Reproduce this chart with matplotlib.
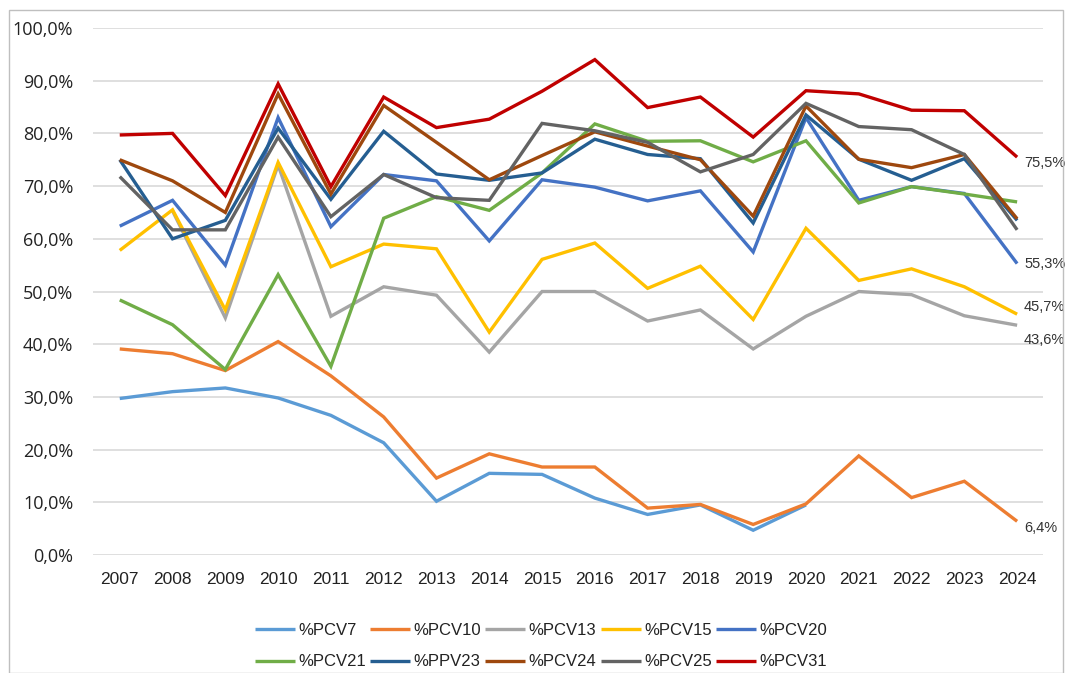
import numpy as np
import matplotlib
matplotlib.use("Agg")
import matplotlib.pyplot as plt
from matplotlib.patches import Rectangle

years = [str(y) for y in range(2007, 2025)]
nan = np.nan

pcv7 = [29.7, 31.0, 31.7, 29.8, 26.5, 21.3, 10.2, 15.5, 15.3, 10.8, 7.7, 9.5, 4.7, 9.5, nan, nan, nan, nan]
pcv10 = [39.1, 38.2, 35.0, 40.5, 34.0, 26.2, 14.6, 19.2, 16.7, 16.7, 8.9, 9.6, 5.8, 9.7, 18.8, 10.9, 14.0, 6.4]
pcv13 = [nan, 65.3, 45.0, 74.0, 45.3, 50.9, 49.3, 38.5, 50.0, 50.0, 44.4, 46.5, 39.1, 45.3, 50.0, 49.4, 45.4, 43.6]
pcv15 = [57.8, 65.5, 46.5, 74.5, 54.7, 59.0, 58.1, 42.3, 56.1, 59.2, 50.6, 54.8, 44.7, 62.0, 52.1, 54.3, 50.9, 45.7]
pcv20 = [62.4, 67.3, 55.0, 83.0, 62.3, 72.2, 71.0, 59.6, 71.2, 69.8, 67.2, 69.1, 57.5, 83.0, 67.3, 69.9, 68.6, 55.3]
pcv21 = [48.4, 43.7, 35.2, 53.2, 35.8, 63.9, 68.0, 65.4, 72.5, 81.8, 78.5, 78.6, 74.6, 78.6, 66.8, 69.9, 68.5, 67.0]
ppv23 = [75.0, 60.0, 63.5, 81.0, 67.5, 80.4, 72.3, 71.1, 72.5, 78.9, 76.0, 75.2, 63.0, 83.5, 75.1, 71.1, 75.2, 63.5]
pcv24 = [75.0, 71.0, 65.0, 87.5, 68.5, 85.3, 78.3, 71.2, 75.8, 80.3, 77.6, 75.0, 64.3, 85.2, 75.1, 73.5, 76.0, 63.8]
pcv25 = [71.8, 61.7, 61.7, 79.3, 64.2, 72.2, 67.8, 67.3, 81.9, 80.5, 78.3, 72.7, 76.0, 85.7, 81.3, 80.7, 76.0, 61.7]
pcv31 = [79.7, 80.0, 68.2, 89.4, 69.9, 86.9, 81.1, 82.7, 88.0, 94.0, 84.9, 86.9, 79.3, 88.1, 87.5, 84.4, 84.3, 75.5]

names = ["%PCV7", "%PCV10", "%PCV13", "%PCV15", "%PCV20",
         "%PCV21", "%PPV23", "%PCV24", "%PCV25", "%PCV31"]
series = [pcv7, pcv10, pcv13, pcv15, pcv20, pcv21, ppv23, pcv24, pcv25, pcv31]
colors = ["#5B9BD5", "#ED7D31", "#A5A5A5", "#FFC000", "#4472C4",
          "#70AD47", "#255E91", "#9E480E", "#636363", "#C00000"]
end_labels = {"%PCV31": "75,5%", "%PCV20": "55,3%", "%PCV15": "45,7%",
              "%PCV13": "43,6%", "%PCV10": "6,4%"}
label_offsets = {"%PCV31": -1.1, "%PCV20": 0, "%PCV15": 1.3, "%PCV13": -2.8, "%PCV10": -1.3}

plt.rcParams['font.family'] = ['Open Sans', 'DejaVu Sans']
narrow = ['Liberation Sans Narrow', 'Liberation Sans', 'DejaVu Sans']

fig = plt.figure(figsize=(10.67, 6.73), dpi=100)
ax = fig.add_axes([0.087, 0.1753, 0.8905, 0.7831])

x = np.arange(len(years))
for name, vals, c in zip(names, series, colors):
    ax.plot(x, vals, color=c, lw=2.4, label=name, solid_joinstyle='miter', solid_capstyle='butt')
    if name in end_labels:
        ax.text(x[-1] + 0.13, vals[-1] + label_offsets[name], end_labels[name],
                fontsize=10.5, color="#333333", va='center', ha='left', family=narrow)

ax.set_xlim(-0.51, len(years) - 1 + 0.49)
ax.set_ylim(0, 100)
ax.set_yticks(np.arange(0, 101, 10))
ax.set_yticklabels([f"{v:.1f}%".replace('.', ',') for v in np.arange(0, 101, 10)],
                   fontsize=13, color="#222222")
ax.set_xticks(x)
ax.set_xticklabels(years, fontsize=12.5, color="#222222", family=narrow)
ax.tick_params(axis='both', length=0)
ax.tick_params(axis='y', pad=14)
ax.tick_params(axis='x', pad=12)
ax.grid(axis='y', color="#D9D9D9", lw=1.2)
ax.set_axisbelow(True)
for s in ax.spines.values():
    s.set_visible(False)

handles, labels = ax.get_legend_handles_labels()
order = [0, 5, 1, 6, 2, 7, 3, 8, 4, 9]
leg = fig.legend([handles[i] for i in order], [labels[i] for i in order],
                 loc='center', bbox_to_anchor=(0.507, 0.040), ncol=5,
                 frameon=False, handlelength=2.4, handletextpad=0.2,
                 columnspacing=0.25, labelspacing=1.0,
                 prop={'family': narrow, 'size': 12})
for t in leg.get_texts():
    t.set_color("#222222")

fig.patches.append(Rectangle((0.008, 0.0), 0.988, 0.985, transform=fig.transFigure,
                             fill=False, edgecolor="#BFBFBF", lw=1.0))

fig.savefig("out.png", dpi=100, facecolor="white")
